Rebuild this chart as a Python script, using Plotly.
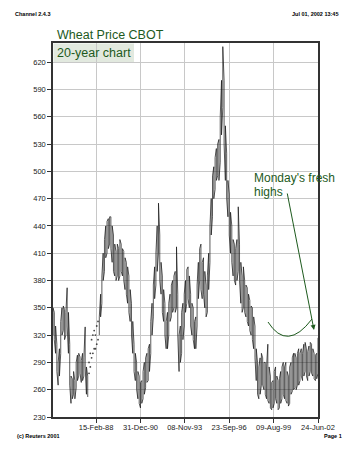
import pandas as pd
import plotly.graph_objects as go

# Monthly price ranges (US cents/bushel), May 1985 .. Jun 2002
lows = [
    320, 315, 300, 280, 265, 275, 300, 320, 325,
    315, 320, 330, 300, 265, 245, 250, 255, 250, 262, 270, 275,
    278, 268, 270, 275, 285, 255, 252, 278, 285, 295, 300, 305,
    305, 310, 315, 320, 340, 355, 380, 390, 405, 410, 415, 420,
    415, 400, 390, 385, 380, 385, 380, 385, 390, 385, 380, 370,
    365, 355, 345, 335, 320, 300, 280, 270, 260, 250, 245, 240,
    245, 250, 255, 262, 268, 270, 280, 300, 320, 340, 360, 375,
    390, 410, 380, 365, 345, 335, 320, 305, 305, 320, 335, 340,
    345, 350, 345, 350, 320, 280, 290, 300, 315, 330, 345, 355,
    360, 350, 330, 320, 315, 305, 305, 330, 360, 380, 370, 360,
    365, 350, 340, 345, 370, 400, 430, 450, 470, 480, 490, 495,
    490, 510, 540, 570, 530, 490, 470, 450, 430, 410, 400, 385,
    380, 375, 380, 390, 380, 355, 345, 350, 345, 340, 335, 330,
    325, 320, 315, 305, 295, 270, 255, 250, 255, 265, 265, 260,
    255, 250, 248, 245, 240, 238, 240, 245, 250, 245, 238, 240,
    245, 250, 255, 250, 248, 245, 242, 245, 255, 258, 260, 262,
    260, 265, 265, 270, 275, 270, 275, 280, 275, 270, 275, 280,
    278, 275, 272, 270, 272, 278,
]
highs = [
    350, 345, 330, 310, 290, 305, 335, 350, 352,
    348, 345, 372, 345, 310, 275, 272, 280, 270, 290, 298, 300,
    296, 292, 300, 295, 329, 285, 275, 290, 300, 315, 320, 325,
    320, 330, 335, 340, 365, 385, 410, 425, 440, 445, 448, 450,
    450, 440, 430, 420, 412, 420, 415, 425, 420, 415, 412, 405,
    400, 395, 385, 370, 355, 335, 310, 300, 290, 280, 275, 268,
    270, 280, 290, 295, 300, 305, 310, 335, 355, 375, 395, 410,
    440, 465, 430, 400, 385, 370, 355, 335, 345, 355, 365, 375,
    380, 385, 390, 417, 365, 320, 330, 345, 355, 365, 380, 392,
    395, 385, 365, 355, 350, 335, 340, 375, 400, 415, 420, 400,
    405, 390, 375, 385, 410, 440, 470, 495, 505, 515, 525, 530,
    535, 560, 600, 637, 600, 550, 520, 490, 475, 455, 440, 425,
    420, 415, 425, 461, 420, 400, 385, 395, 380, 375, 372, 365,
    358, 352, 350, 340, 330, 305, 290, 285, 295, 300, 295, 290,
    290, 285, 310, 285, 275, 268, 270, 280, 285, 275, 270, 272,
    280, 285, 290, 285, 290, 280, 275, 285, 290, 295, 300, 300,
    295, 300, 305, 300, 305, 300, 310, 312, 305, 302, 308, 312,
    310, 305, 300, 298, 300, 317,
]
sparse_from, sparse_to = 27, 36   # thin, dotted stretch of the record (1987-88)

y_ticks = list(range(230, 621, 30))
x_tick_dates = ["1988-02-15", "1990-12-31", "1993-11-08", "1996-09-23", "1999-08-09", "2002-06-24"]
x_tick_text = ["15-Feb-88", "31-Dec-90", "08-Nov-93", "23-Sep-96", "09-Aug-99", "24-Jun-02"]
x_start, x_end = "1985-05-04", "2002-06-24"

dates = pd.date_range(x_start, x_end, periods=len(lows))

def zigzag(i0, i1):
    xs, ys = [], []
    for i in range(i0, i1):
        a, b = (lows[i], highs[i]) if i % 2 == 0 else (highs[i], lows[i])
        xs += [dates[i], dates[i]]
        ys += [a, b]
    return xs, ys

GREEN = "#1d5a1d"
fig = go.Figure()
for (i0, i1) in [(0, sparse_from + 1), (sparse_to, len(lows))]:
    xs, ys = zigzag(i0, i1)
    fig.add_trace(go.Scatter(x=xs, y=ys, mode="lines",
                             line=dict(color="#111111", width=0.7),
                             hoverinfo="skip", showlegend=False))
# sparse, dotted stretch
xs, ys = zigzag(sparse_from + 1, sparse_to)
fig.add_trace(go.Scatter(x=xs, y=ys, mode="markers",
                         marker=dict(color="#444444", size=1.8),
                         hoverinfo="skip", showlegend=False))

L, R, T, B = 53, 32, 43, 36
W, H = 350, 453
pw, ph = W - L - R, H - T - B
def px(x): return (x - L) / pw
def py(y): return (H - B - y) / ph

annotations = [
    dict(x=px(13), y=py(14), text="<b>Channel 2.4.3</b>", font=dict(size=5.5, color="#000")),
    dict(x=px(290), y=py(14), text="<b>Jul 01, 2002 13:45</b>", font=dict(size=5.5, color="#000")),
    dict(x=px(15), y=py(436), text="<b>(c) Reuters 2001</b>", font=dict(size=5.5, color="#000")),
    dict(x=px(322), y=py(436), text="<b>Page 1</b>", font=dict(size=5.5, color="#000")),
    dict(x=px(55), y=py(35), text="Wheat Price CBOT", font=dict(size=12.5, color=GREEN)),
    dict(x=px(55), y=py(53), text="20-year chart", font=dict(size=12.5, color=GREEN)),
    dict(x=px(252), y=py(178), text="Monday's fresh", font=dict(size=12, color=GREEN)),
    dict(x=px(252), y=py(192), text="highs", font=dict(size=12, color=GREEN)),
]
for a in annotations:
    a.update(xref="paper", yref="paper", showarrow=False, xanchor="left", yanchor="middle")
annotations.append(dict(xref="paper", yref="paper", x=px(314), y=py(330), ax=287 - 314, ay=192 - 330,
                        showarrow=True, arrowhead=2, arrowsize=1, arrowwidth=1, arrowcolor=GREEN, text=""))

shapes = [
    dict(type="rect", xref="paper", yref="paper", x0=px(53.5), x1=px(134), y0=py(62.5), y1=py(43.5),
         fillcolor="#e2e9df", line=dict(width=0), layer="below"),
    dict(type="path", xref="paper", yref="paper",
         path=f"M {px(268)} {py(322)} Q {px(287)} {py(352)} {px(312)} {py(319)}",
         line=dict(color=GREEN, width=1)),
]

fig.update_layout(
    width=W, height=H, margin=dict(l=L, r=R, t=T, b=B),
    paper_bgcolor="white", plot_bgcolor="white",
    font=dict(family="Liberation Sans, Arial, sans-serif", color="#333"),
    annotations=annotations, shapes=shapes,
    xaxis=dict(type="date", range=[x_start, x_end], tickvals=x_tick_dates, ticktext=x_tick_text,
               tickfont=dict(size=7.5, color="#222"), ticks="outside", ticklen=4, tickcolor="#333",
               ticklabelstandoff=-2,
               showgrid=True, gridcolor="#c8c8c8", gridwidth=1, showline=True, linecolor="#333",
               linewidth=1.5, mirror=True, zeroline=False),
    yaxis=dict(range=[230, 641], tickvals=y_ticks, tickfont=dict(size=7.5, color="#222"),
               ticks="outside", ticklen=4, tickcolor="#333", showgrid=True, gridcolor="#c8c8c8",
               gridwidth=1, showline=True, linecolor="#333", linewidth=1.5, mirror=True, zeroline=False),
)
fig.write_html("out.html")
